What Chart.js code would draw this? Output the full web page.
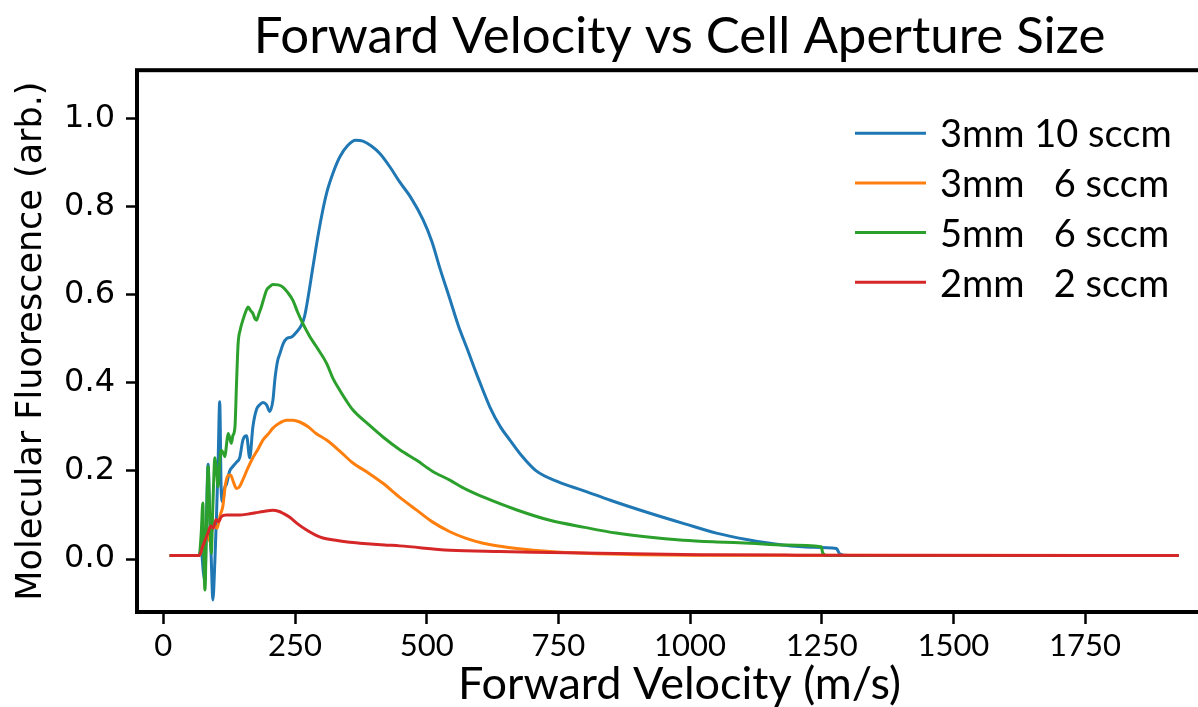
<!DOCTYPE html>
<html>
<head>
<meta charset="utf-8">
<script src="https://cdn.jsdelivr.net/npm/chart.js@4.4.1/dist/chart.umd.min.js"></script>
<style>
  html, body { margin: 0; padding: 0; background: #fff; overflow: hidden; }
  canvas { display: block; }
</style>
</head>
<body>
<canvas id="myChart" width="1225" height="707"></canvas>
<script>
// series labels (legend)
var seriesLabels = ['3mm 10 sccm', '3mm   6 sccm', '5mm   6 sccm', '2mm   2 sccm'];
var seriesColors = ['#1f77b4', '#ff7f0e', '#2ca02c', '#d62728'];

// 3mm 10 sccm
var velBlue = [12, 68, 72, 76, 79, 82, 85, 88, 91, 94, 98, 101, 104, 107, 110, 113, 116, 120, 126, 132,
  139, 145, 151, 158, 164, 170, 177, 183, 189, 196, 202, 208, 212, 217, 221, 228, 234, 245, 253, 262,
  268, 275, 283, 291, 300, 310, 322, 335, 350, 365, 379, 395, 411, 430, 449, 470, 493, 510, 525, 544,
  560, 576, 598, 620, 640, 658, 680, 708, 750, 796, 850, 924, 990, 1050, 1110, 1176, 1230, 1278, 1284, 1300, 1928];
var fluBlue = [0.008, 0.008, 0.02, -0.03, -0.05, 0.10, 0.215, 0.10, 0.0, -0.093, 0.0, 0.10, 0.22, 0.357, 0.15, 0.13, 0.16, 0.17, 0.20, 0.21,
  0.22, 0.23, 0.27, 0.28, 0.23, 0.30, 0.34, 0.35, 0.355, 0.35, 0.335, 0.36, 0.41, 0.45, 0.465, 0.49, 0.50, 0.505, 0.515, 0.53,
  0.55, 0.595, 0.655, 0.715, 0.775, 0.83, 0.875, 0.912, 0.938, 0.95, 0.948, 0.937, 0.92, 0.89, 0.855, 0.82, 0.77, 0.72, 0.66, 0.59,
  0.53, 0.48, 0.41, 0.345, 0.30, 0.27, 0.235, 0.20, 0.175, 0.156, 0.133, 0.104, 0.08, 0.059, 0.044, 0.032, 0.027, 0.024, 0.012, 0.008, 0.008];

// 3mm 6 sccm
var velOrange = [12, 68, 75, 82, 88, 95, 102, 108, 113, 118, 123, 128, 133, 139, 145, 151, 160, 170, 180, 189,
  200, 208, 220, 234, 246, 259, 275, 290, 310, 335, 360, 390, 417, 449, 481, 510, 544, 575, 607, 640,
  671, 734, 800, 900, 1000, 1928];
var fluOrange = [0.008, 0.008, 0.03, 0.07, 0.04, 0.08, 0.07, 0.10, 0.12, 0.17, 0.19, 0.19, 0.175, 0.16, 0.165, 0.18, 0.205, 0.23, 0.25, 0.27,
  0.285, 0.297, 0.308, 0.315, 0.315, 0.311, 0.30, 0.285, 0.27, 0.245, 0.218, 0.195, 0.172, 0.14, 0.111, 0.085, 0.062, 0.047, 0.036, 0.029,
  0.024, 0.017, 0.013, 0.01, 0.009, 0.008];

// 5mm 6 sccm
var velGreen = [12, 68, 72, 75, 77, 79, 82, 85, 88, 91, 94, 98, 101, 104, 107, 110, 114, 117, 120, 123,
  126, 129, 132, 136, 139, 142, 146, 151, 156, 161, 165, 170, 174, 177, 181, 186, 191, 196, 202, 208,
  218, 227, 236, 246, 255, 265, 278, 291, 310, 322, 335, 347, 360, 390, 417, 449, 481, 510, 544, 575,
  607, 670, 734, 800, 860, 920, 987, 1050, 1114, 1180, 1249, 1252, 1260, 1928];
var fluGreen = [0.008, 0.008, 0.06, 0.127, 0.0, -0.07, 0.08, 0.21, 0.10, 0.013, 0.12, 0.23, 0.20, 0.164, 0.22, 0.247, 0.24, 0.232, 0.26, 0.285,
  0.275, 0.263, 0.28, 0.30, 0.40, 0.489, 0.52, 0.542, 0.56, 0.572, 0.565, 0.557, 0.545, 0.542, 0.555, 0.572, 0.592, 0.61, 0.618, 0.623,
  0.622, 0.617, 0.605, 0.587, 0.56, 0.534, 0.505, 0.481, 0.444, 0.41, 0.383, 0.36, 0.338, 0.305, 0.277, 0.248, 0.224, 0.20, 0.179, 0.158,
  0.141, 0.112, 0.088, 0.072, 0.059, 0.05, 0.043, 0.039, 0.036, 0.032, 0.028, 0.014, 0.008, 0.008];

// 2mm 2 sccm
var velRed = [12, 68, 75, 80, 85, 90, 95, 100, 105, 110, 120, 135, 145, 160, 175, 190, 208, 220, 227, 240,
  255, 272, 290, 303, 330, 354, 373, 420, 449, 544, 639, 734, 828, 1018, 1200, 1928];
var fluRed = [0.008, 0.008, 0.03, 0.045, 0.06, 0.075, 0.07, 0.09, 0.085, 0.096, 0.10, 0.10, 0.10, 0.102, 0.105, 0.108, 0.111, 0.108, 0.104, 0.095,
  0.08, 0.066, 0.054, 0.048, 0.042, 0.038, 0.036, 0.032, 0.03, 0.02, 0.017, 0.015, 0.013, 0.01, 0.009, 0.008];

var xTicks = [0, 250, 500, 750, 1000, 1250, 1500, 1750];
var yTicks = [0.0, 0.2, 0.4, 0.6, 0.8, 1.0];

function pairs(xs, ys) {
  var out = [];
  for (var i = 0; i < xs.length; i++) {
    out.push({ x: xs[i], y: ys[i] });
  }
  return out;
}

var allSeries = [pairs(velBlue, fluBlue), pairs(velOrange, fluOrange), pairs(velGreen, fluGreen), pairs(velRed, fluRed)];

var datasets = [];
for (var i = 0; i < allSeries.length; i++) {
  datasets.push({
    label: seriesLabels[i],
    data: allSeries[i],
    borderColor: seriesColors[i],
    backgroundColor: seriesColors[i],
    borderWidth: 3,
    pointRadius: 0,
    cubicInterpolationMode: 'monotone',
    fill: false,
    order: allSeries.length - i   // later series drawn on top, like matplotlib
  });
}

// box round the plot area
var framePlugin = {
  id: 'frame',
  afterDatasetsDraw: function(chart) {
    var a = chart.chartArea;
    var ctx = chart.ctx;
    ctx.save();
    ctx.lineWidth = 4;
    ctx.strokeStyle = '#000';
    ctx.strokeRect(a.left, a.top, a.right - a.left, a.bottom - a.top);
    ctx.restore();
  }
};

// legend inside the plot, upper right
var insideLegend = {
  id: 'insideLegend',
  afterDraw: function(chart) {
    var a = chart.chartArea;
    var ctx = chart.ctx;
    var x0 = a.right - 367;
    var y0 = a.top + 63;
    ctx.save();
    ctx.font = '38px Lato';
    ctx.textBaseline = 'middle';
    ctx.textAlign = 'left';
    for (var i = 0; i < seriesLabels.length; i++) {
      var y = y0 + i * 49.7;
      ctx.strokeStyle = seriesColors[i];
      ctx.lineWidth = 3;
      ctx.beginPath();
      ctx.moveTo(x0, y);
      ctx.lineTo(x0 + 71, y);
      ctx.stroke();
      ctx.fillStyle = '#000';
      ctx.fillText(seriesLabels[i], x0 + 85, y + 2);
    }
    ctx.restore();
  }
};

var ctx = document.getElementById('myChart').getContext('2d');

new Chart(ctx, {
  type: 'line',
  data: { datasets: datasets },
  plugins: [framePlugin, insideLegend],
  options: {
    responsive: false,
    animation: false,
    layout: { padding: { left: 0, right: 3, top: 0, bottom: 0 } },
    scales: {
      x: {
        type: 'linear',
        min: -50,
        max: 2010,
        afterFit: function(scale) { scale.height = 95; },
        afterBuildTicks: function(scale) {
          scale.ticks = xTicks.map(function(v) { return { value: v }; });
        },
        border: { display: false },
        grid: { drawOnChartArea: false, drawTicks: true, tickLength: 12, tickWidth: 2.5, tickColor: '#000' },
        ticks: {
          color: '#000',
          padding: 3,
          maxRotation: 0,
          font: { family: 'Lato', size: 31 },
          callback: function(v) { return String(v); }
        },
        title: {
          display: true,
          text: 'Forward Velocity (m/s)',
          color: '#000',
          font: { family: 'Lato', size: 45, lineHeight: 1.0 },
          padding: { top: 0, bottom: 0 }
        }
      },
      y: {
        min: -0.12,
        max: 1.109,
        afterFit: function(scale) { scale.width = 137; },
        afterBuildTicks: function(scale) {
          scale.ticks = yTicks.map(function(v) { return { value: v }; });
        },
        border: { display: false },
        grid: { drawOnChartArea: false, drawTicks: true, tickLength: 11, tickWidth: 2.5, tickColor: '#000' },
        ticks: {
          color: '#000',
          padding: 11,
          font: { family: 'DejaVu Sans', size: 32 },
          callback: function(v) { return Number(v).toFixed(1); }
        },
        title: {
          display: true,
          text: 'Molecular Fluorescence (arb.)',
          color: '#000',
          font: { family: 'DejaVu Sans', size: 35, lineHeight: 1.0 },
          padding: { top: 14, bottom: 0 }
        }
      }
    },
    plugins: {
      legend: { display: false },
      tooltip: { enabled: false },
      title: {
        display: true,
        text: 'Forward Velocity vs Cell Aperture Size',
        color: '#000',
        fullSize: false,
        font: { family: 'Lato', size: 51, weight: 'normal', lineHeight: 1.2 },
        padding: { top: 6, bottom: 3 }
      }
    }
  }
});
</script>
</body>
</html>
